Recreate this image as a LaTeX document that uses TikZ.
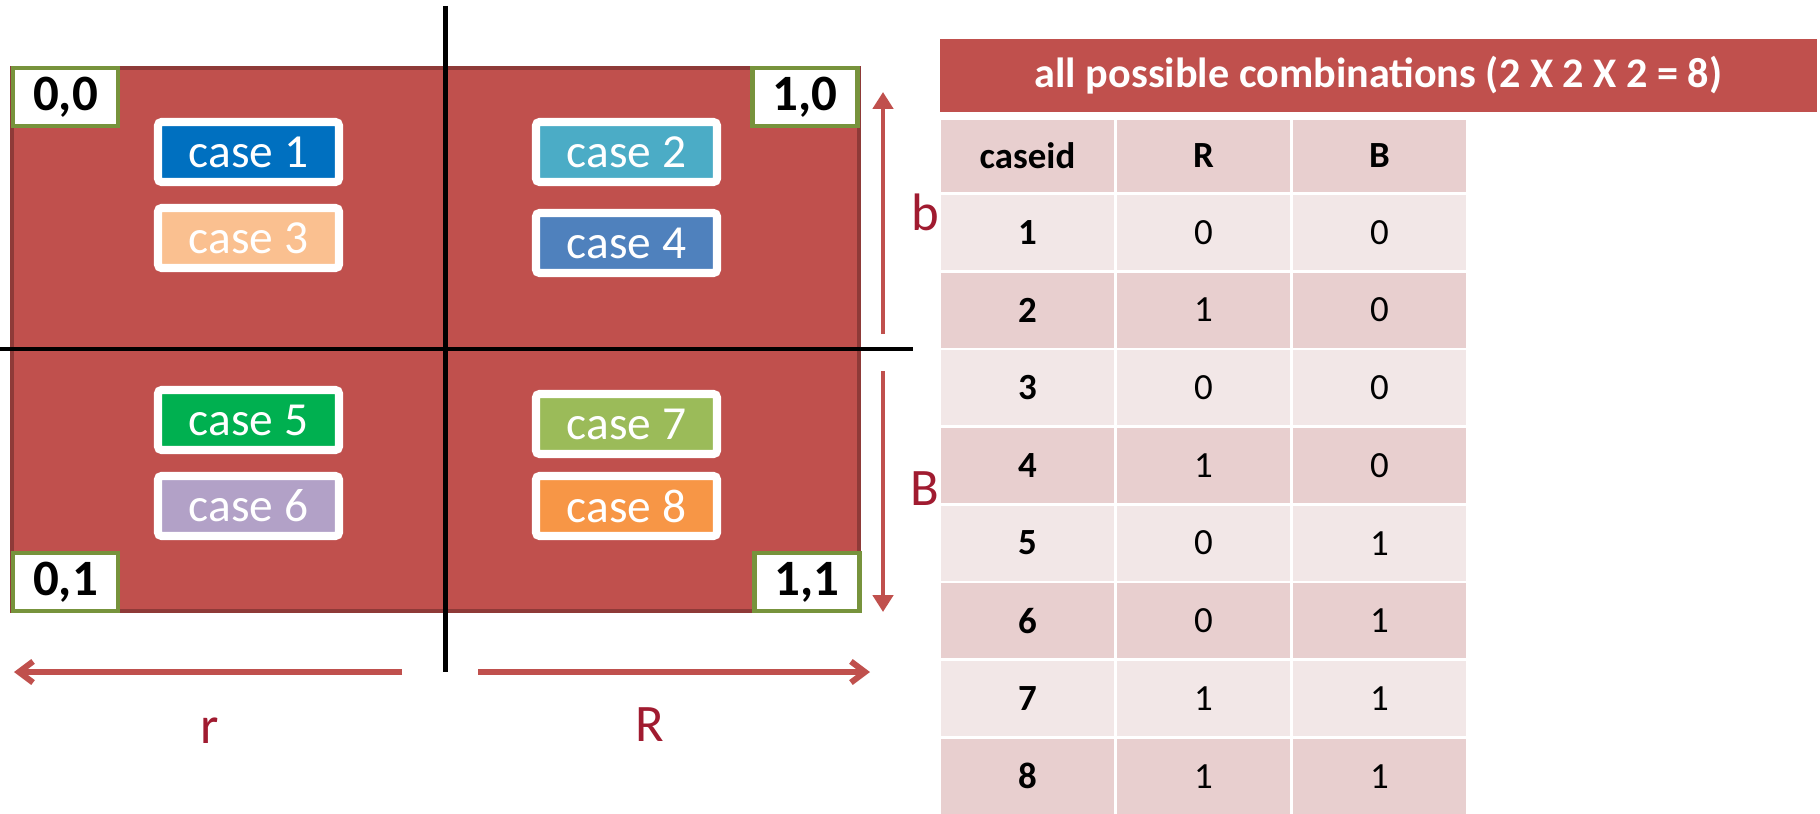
\documentclass[tikz,border=0pt]{standalone}
\usepackage{fontspec}
\setmainfont{Carlito}
\usetikzlibrary{arrows.meta,shadows}

\definecolor{boardred}{RGB}{192,80,77}
\definecolor{boardedge}{RGB}{142,58,56}
\definecolor{cornergreen}{RGB}{119,147,60}
\definecolor{labelred}{RGB}{160,27,48}
\definecolor{bandDark}{RGB}{232,207,207}
\definecolor{bandLight}{RGB}{242,231,231}
\definecolor{caseOne}{RGB}{0,112,192}
\definecolor{caseTwo}{RGB}{75,172,198}
\definecolor{caseThree}{RGB}{250,192,144}
\definecolor{caseFour}{RGB}{79,129,189}
\definecolor{caseFive}{RGB}{0,176,80}
\definecolor{caseSix}{RGB}{178,161,199}
\definecolor{caseSeven}{RGB}{155,187,89}
\definecolor{caseEight}{RGB}{247,150,70}

\tikzset{
  casebox/.style={fill=#1, draw=white, line width=2.3pt, rounded corners=1pt,
    minimum width=1.81cm, minimum height=0.60cm, inner sep=0pt, text=white,
    font=\fontsize{13.5}{13.5}\selectfont,
    drop shadow={shadow xshift=0.6pt, shadow yshift=-0.6pt, opacity=0.3}},
  cornerbox/.style={fill=white, draw=cornergreen, line width=1.3pt,
    minimum width=1.05cm, minimum height=0.58cm, inner sep=0pt,
    font=\fontsize{14.5}{14.5}\selectfont\bfseries},
  cellbox/.style={fill=#1, minimum width=1.73cm, minimum height=0.75cm,
    inner sep=0pt, font=\fontsize{10.5}{10.5}\selectfont},
  dimlabel/.style={text=labelred, font=\fontsize{15}{15}\selectfont, anchor=base},
  dimarrow/.style={draw=boardred, line width=1.3pt,
    -{Triangle[width=5.7pt,length=4.8pt]}},
  spanarrow/.style={draw=boardred, line width=1.7pt,
    -{Straight Barb[width=6pt,length=4pt]}},
}

\begin{document}
\begin{tikzpicture}
  \useasboundingbox (0,0) rectangle (18.2,-8.14);

  % The board
  \draw[fill=boardred, draw=boardedge, line width=1.1pt] (0.12,-0.68) rectangle (8.59,-6.11);

  % Cross lines splitting the board
  \draw[line width=1.55pt] (4.455,-0.06) -- (4.455,-6.72);
  \draw[line width=1.4pt] (0,-3.49) -- (9.13,-3.49);

  % Corner labels
  \node[cornerbox] (c00) at (0.655,-0.97) {0,0};
  \node[cornerbox] (c10) at (8.05,-0.97) {1,0};
  \node[cornerbox] (c01) at (0.655,-5.82) {0,1};
  \node[cornerbox] (c11) at (8.07,-5.82) {1,1};

  % The eight cases
  \foreach \n/\x/\y/\c in {1/2.485/-1.52/caseOne, 3/2.485/-2.38/caseThree,
      2/6.265/-1.52/caseTwo, 4/6.265/-2.43/caseFour,
      5/2.485/-4.20/caseFive, 6/2.485/-5.06/caseSix,
      7/6.265/-4.24/caseSeven, 8/6.265/-5.06/caseEight} {
    \node[casebox=\c] (case\n) at (\x,\y) {case \n};
  }

  % Side arrows b and B
  \coordinate (bLow) at (8.83,-3.34);
  \coordinate (bTop) at (8.83,-0.92);
  \coordinate (BHigh) at (8.83,-3.71);
  \coordinate (BEnd) at (8.83,-6.12);
  \draw[dimarrow] (bLow) -- (bTop);
  \draw[dimarrow] (BHigh) -- (BEnd);
  \node[dimlabel] (lb) at (9.25,-2.30) {b};
  \node[dimlabel] (lB) at (9.25,-5.05) {B};

  % Bottom arrows r and R
  \coordinate (rIn) at (4.02,-6.72);
  \coordinate (rEnd) at (0.14,-6.72);
  \coordinate (RIn) at (4.78,-6.72);
  \coordinate (REnd) at (8.70,-6.72);
  \draw[spanarrow] (rIn) -- (rEnd);
  \draw[spanarrow] (RIn) -- (REnd);
  \node[dimlabel] (lr) at (2.10,-7.43) {r};
  \node[dimlabel] (lR) at (6.50,-7.41) {R};

  % Table of all combinations
  \node[fill=boardred, minimum width=8.77cm, minimum height=0.73cm, inner sep=0pt,
    text=white, font=\fontsize{12}{12}\selectfont\bfseries] (title) at (13.785,-0.755)
    {all possible combinations (2 X 2 X 2 = 8)};

  \node[cellbox=bandDark, minimum height=0.72cm, font=\fontsize{10.5}{10.5}\selectfont\bfseries]
    (hId) at (10.275,-1.56) {caseid};
  \node[cellbox=bandDark, minimum height=0.72cm, font=\fontsize{10.5}{10.5}\selectfont\bfseries]
    (hR) at (12.035,-1.56) {R};
  \node[cellbox=bandDark, minimum height=0.72cm, font=\fontsize{10.5}{10.5}\selectfont\bfseries]
    (hB) at (13.795,-1.56) {B};

  \def\caseRows{1/0/0, 2/1/0, 3/0/0, 4/1/0, 5/0/1, 6/0/1, 7/1/1, 8/1/1}
  \foreach \id/\r/\b [count=\i from 1] in \caseRows {
    \pgfmathsetmacro\rowy{-(1.92+0.777*\i-0.3735)}
    \ifodd\i\def\band{bandLight}\else\def\band{bandDark}\fi
    \node[cellbox=\band, font=\fontsize{10.5}{10.5}\selectfont\bfseries] (id\i) at (10.275,\rowy) {\id};
    \node[cellbox=\band] (r\i) at (12.035,\rowy) {\r};
    \node[cellbox=\band] (b\i) at (13.795,\rowy) {\b};
  }
\end{tikzpicture}
\end{document}
